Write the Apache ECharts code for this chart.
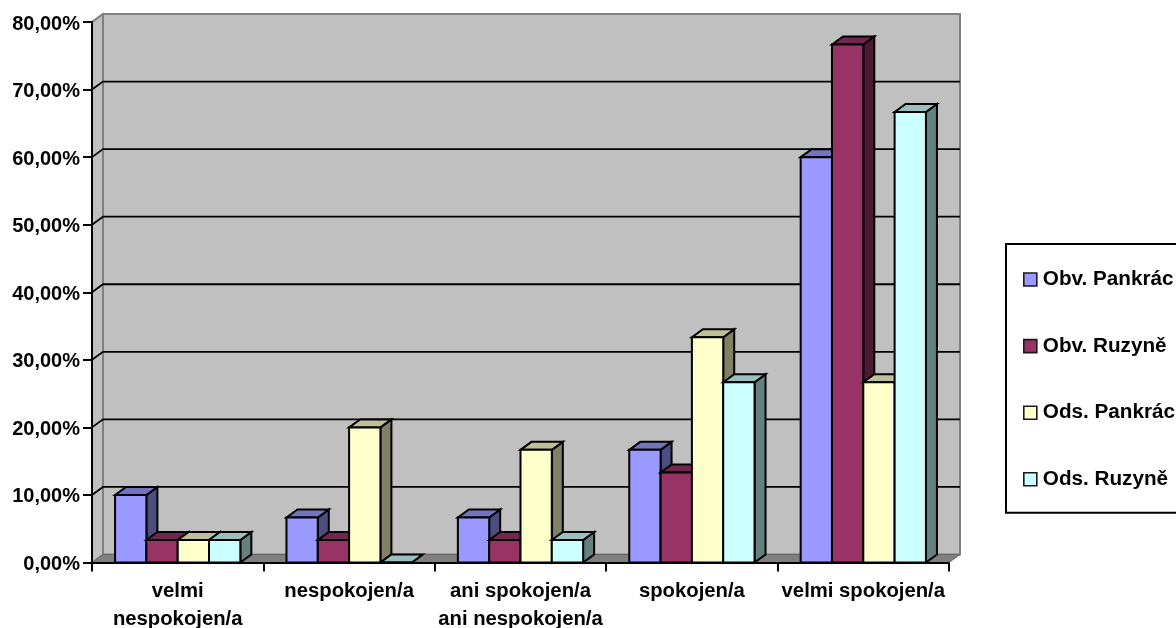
<!DOCTYPE html>
<html>
<head>
<meta charset="utf-8">
<style>html,body{margin:0;padding:0;background:#fff}#chart{width:1176px;height:628px}</style>
<script src="https://cdn.jsdelivr.net/npm/echarts@6/dist/echarts.min.js"></script>
</head>
<body>
<div id="chart"></div>
<script>
const categories = ['velmi\nnespokojen/a', 'nespokojen/a', 'ani spokojen/a\nani nespokojen/a', 'spokojen/a', 'velmi spokojen/a'];
const seriesNames = ['Obv. Pankrác', 'Obv. Ruzyně', 'Ods. Pankrác', 'Ods. Ruzyně'];
const obvPankrac = [10, 6.67, 6.67, 16.67, 60];
const obvRuzyne = [3.33, 3.33, 3.33, 13.33, 76.67];
const odsPankrac = [3.33, 20, 16.67, 33.33, 26.67];
const odsRuzyne = [3.33, 0, 3.33, 26.67, 66.67];
const faceColors = ['#9999FF', '#993366', '#FFFFCC', '#CCFFFF'];
const topColors = ['#7373BF', '#73264D', '#BFBF99', '#99BFBF'];
const sideColors = ['#4D4D80', '#4D1A33', '#808066', '#668080'];
const gridValues = [0, 10, 20, 30, 40, 50, 60, 70, 80];

// Oblique projection offset of the chart's depth axis, in pixels
const DEPTH_X = 11;
const DEPTH_Y = -8;
const BAR_BAND_SHARE = 0.1827;
const FONT = '"Liberation Sans", Arial, sans-serif';

const poly = (points, fill, stroke, width) => ({
  type: 'polygon',
  shape: { points },
  style: { fill, stroke, lineWidth: width, lineJoin: 'miter' }
});

// Left wall, back wall, floor and gridlines of the box
function renderWalls(params, api) {
  const c = params.coordSys;
  const l = c.x, r = c.x + c.width, t = c.y, b = c.y + c.height;
  const children = [
    poly([[l, t], [l + DEPTH_X, t + DEPTH_Y], [l + DEPTH_X, b + DEPTH_Y], [l, b]], '#C0C0C0', '#808080', 1.5),
    poly([[l + DEPTH_X, t + DEPTH_Y], [r + DEPTH_X, t + DEPTH_Y], [r + DEPTH_X, b + DEPTH_Y], [l + DEPTH_X, b + DEPTH_Y]], '#C0C0C0', '#808080', 2),
    poly([[l, b], [l + DEPTH_X, b + DEPTH_Y], [r + DEPTH_X, b + DEPTH_Y], [r, b]], '#808080', '#666666', 1)
  ];
  gridValues.forEach((v) => {
    if (v === 0) return;
    const y = api.coord([0, v])[1];
    const color = v === 80 ? '#808080' : '#000000';
    children.push({ type: 'polyline', shape: { points: [[l, y], [l + DEPTH_X, y + DEPTH_Y], [r + DEPTH_X, y + DEPTH_Y]] },
      style: { fill: 'none', stroke: color, lineWidth: v === 80 ? 2 : 1.8 } });
  });
  return { type: 'group', children };
}

// One box: front face, top face and right side face
function renderBar(seriesIndex) {
  return function (params, api) {
    const base = api.coord([api.value(0), 0]);
    const top = api.coord([api.value(0), api.value(1)]);
    const w = api.size([1, 0])[0] * BAR_BAND_SHARE;
    const x0 = base[0] - 2 * w + seriesIndex * w;
    const x1 = x0 + w;
    const y0 = base[1], y1 = top[1];
    return {
      type: 'group',
      children: [
        poly([[x1, y1], [x1 + DEPTH_X, y1 + DEPTH_Y], [x1 + DEPTH_X, y0 + DEPTH_Y], [x1, y0]], sideColors[seriesIndex], '#000', 2),
        poly([[x0, y1], [x0 + DEPTH_X, y1 + DEPTH_Y], [x1 + DEPTH_X, y1 + DEPTH_Y], [x1, y1]], topColors[seriesIndex], '#000', 2),
        poly([[x0, y1], [x1, y1], [x1, y0], [x0, y0]], faceColors[seriesIndex], '#000', 2)
      ]
    };
  };
}

const labelStyle = { color: '#000', fontFamily: FONT, fontWeight: 'bold', fontSize: 20 };
const valuesBySeries = [obvPankrac, obvRuzyne, odsPankrac, odsRuzyne];

const option = {
  animation: false,
  backgroundColor: '#fff',
  grid: { left: 92, right: 227, top: 22, bottom: 65.5, containLabel: false, outerBoundsMode: 'none' },
  legend: {
    data: seriesNames,
    orient: 'vertical',
    left: 1006,
    top: 244,
    padding: [24, 24, 22, 17],
    itemWidth: 13,
    itemHeight: 13,
    itemGap: 43.6,
    icon: 'rect',
    selectedMode: false,
    borderColor: '#000',
    borderWidth: 2,
    itemStyle: { borderColor: '#1a1a1a', borderWidth: 1.6 },
    textStyle: Object.assign({}, labelStyle, { fontSize: 20.7, padding: [0, 0, 0, 1], lineHeight: 23 })
  },
  xAxis: {
    type: 'category',
    data: categories,
    z: 5,
    axisLine: { lineStyle: { color: '#000', width: 2 } },
    axisTick: { show: true, length: 9, lineStyle: { color: '#000', width: 2 } },
    axisLabel: Object.assign({}, labelStyle, { fontSize: 20.3, margin: 15, lineHeight: 28, interval: 0 }),
    splitLine: { show: false }
  },
  yAxis: {
    type: 'value',
    min: 0,
    max: 80,
    interval: 10,
    z: 5,
    axisLine: { show: true, lineStyle: { color: '#000', width: 2 } },
    axisTick: { show: true, length: 9, lineStyle: { color: '#000', width: 2 } },
    axisLabel: Object.assign({}, labelStyle, { margin: 12, verticalAlign: 'top', lineHeight: 4, formatter: (v) => v.toFixed(2).replace('.', ',') + '%' }),
    splitLine: { show: false }
  },
  series: [
    { type: 'custom', name: 'walls', z: 1, silent: true, clip: false, renderItem: renderWalls, data: [[0, 0]],
      encode: { x: 0, y: 1 } }
  ].concat(seriesNames.map((name, i) => ({
    type: 'custom',
    name,
    z: 2,
    clip: false,
    renderItem: renderBar(i),
    itemStyle: { color: faceColors[i] },
    encode: { x: 0, y: 1 },
    data: valuesBySeries[i].map((v, k) => [k, v])
  })))
};

echarts.init(document.getElementById('chart'), null, { renderer: 'canvas' }).setOption(option);
</script>
</body>
</html>
